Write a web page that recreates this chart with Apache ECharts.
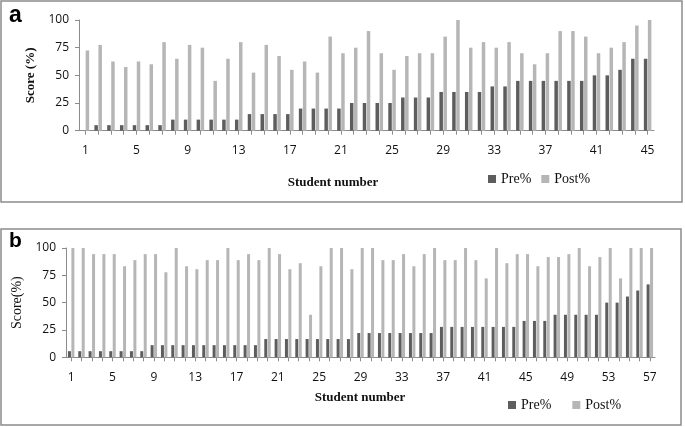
<!DOCTYPE html>
<html>
<head>
<meta charset="utf-8">
<script src="https://cdn.jsdelivr.net/npm/echarts@6/dist/echarts.min.js"></script>
<style>html,body{margin:0;padding:0;background:#fff;}#c{width:685px;height:427px;}</style>
</head>
<body>
<div id="c"></div>
<script>
// Panel a data
const categoriesA = Array.from({length: 45}, (_, i) => String(i + 1));
const preA = [0,5,5,5,5,5,5,10,10,10,10,10,10,15,15,15,15,20,20,20,20,25,25,25,25,30,30,30,35,35,35,35,40,40,45,45,45,45,45,45,50,50,55,65,65];
const postA = [72.5,77.5,62.5,57.5,62.5,60,80,65,77.5,75,45,65,80,
  52.5,77.5,67.5,55,62.5,52.5,85,70,75,90,70,55,67.5,70,70,85,100,75,
  80,75,80,70,60,70,90,90,85,70,75,80,95,100];
// Panel b data
const categoriesB = Array.from({length: 57}, (_, i) => String(i + 1));
const preB = [5.6,5.6,5.6,5.6,5.6,5.6,5.6,5.6,
  11.1,11.1,11.1,11.1,11.1,11.1,11.1,11.1,11.1,11.1,11.1,
  16.7,16.7,16.7,16.7,16.7,16.7,16.7,16.7,16.7,
  22.2,22.2,22.2,22.2,22.2,22.2,22.2,22.2,
  27.8,27.8,27.8,27.8,27.8,27.8,27.8,27.8,
  33.3,33.3,33.3,38.9,38.9,38.9,38.9,38.9,50,50,55.6,61.1,66.7];
const postB = [100,100,94.4,94.4,94.4,83.3,88.9,94.4,94.4,77.8,100,83.3,80.6,88.9,88.9,100,88.9,
  94.4,88.9,100,94.4,80.6,86.1,38.9,83.3,100,100,80.6,100,100,88.9,88.9,94.4,83.3,94.4,100,88.9,88.9,100,
  88.9,72.2,100,86.1,94.4,94.4,83.3,91.7,91.7,94.4,100,83.3,91.7,100,72.2,100,100,100];
const yTicks = [0, 25, 50, 75, 100];
const seriesNames = ['Pre%', 'Post%'];

const PRE = '#5d5d5d', POST = '#b6b6b6', AX = '#8c8c8c';
const tickFont = {fontFamily: 'Open Sans', fontSize: 12, color: '#111'};
const serif = 'Liberation Serif';

function xAxis(gi, cats) {
  return {
    type: 'category', gridIndex: gi, data: cats, boundaryGap: true,
    axisLine: {show: true, lineStyle: {color: AX, width: 1}},
    axisTick: {show: true, interval: 0, alignWithLabel: true, length: 4, lineStyle: {color: AX}},
    axisLabel: Object.assign({interval: 3, margin: 14}, tickFont),
    splitLine: {show: false}
  };
}
function yAxis(gi, name, bold, size, gap) {
  return {
    type: 'value', gridIndex: gi, min: yTicks[0], max: yTicks[yTicks.length - 1], interval: 25,
    name: name, nameLocation: 'middle', nameGap: gap, nameRotate: 90,
    nameTextStyle: {fontFamily: serif, fontWeight: bold ? 'bold' : 'normal', fontSize: size, color: '#111'},
    axisLine: {show: true, lineStyle: {color: AX, width: 1}},
    axisTick: {show: true, length: 4, lineStyle: {color: AX}},
    axisLabel: Object.assign({margin: 10}, tickFont),
    splitLine: {show: false}
  };
}

const chart = echarts.init(document.getElementById('c'), null, {renderer: 'canvas'});
chart.setOption({
  animation: false,
  backgroundColor: '#fff',
  grid: [
    {left: 79, top: 20, width: 575, height: 110.7},
    {left: 66, top: 248, width: 589, height: 109.3}
  ],
  xAxis: [xAxis(0, categoriesA), xAxis(1, categoriesB)],
  yAxis: [yAxis(0, 'Score (%)', true, 13, 39), yAxis(1, 'Score(%)', false, 14, 37)],
  legend: [
    {data: seriesNames, left: 483, top: 167, itemWidth: 8, itemHeight: 8, itemGap: 10, icon: 'rect',
     textStyle: {fontFamily: serif, fontSize: 14, color: '#111'}},
    {data: seriesNames, left: 503, top: 393, itemWidth: 8, itemHeight: 8, itemGap: 21, icon: 'rect',
     textStyle: {fontFamily: serif, fontSize: 14, color: '#111'}}
  ],
  series: [
    {name: seriesNames[0], type: 'bar', xAxisIndex: 0, yAxisIndex: 0, data: preA, barWidth: 3.5, barGap: '15%', itemStyle: {color: PRE}},
    {name: seriesNames[1], type: 'bar', xAxisIndex: 0, yAxisIndex: 0, data: postA, barWidth: 3.5, barGap: '15%', itemStyle: {color: POST}},
    {name: seriesNames[0], type: 'bar', xAxisIndex: 1, yAxisIndex: 1, data: preB, barWidth: 3, barGap: '15%', itemStyle: {color: PRE}},
    {name: seriesNames[1], type: 'bar', xAxisIndex: 1, yAxisIndex: 1, data: postB, barWidth: 3, barGap: '15%', itemStyle: {color: POST}}
  ],
  graphic: [
    {type: 'rect', shape: {x: 1, y: 1, width: 681, height: 201}, style: {fill: 'none', stroke: AX, lineWidth: 1.5}, silent: true},
    {type: 'rect', shape: {x: 1, y: 229, width: 680, height: 196}, style: {fill: 'none', stroke: AX, lineWidth: 1.5}, silent: true},
    {type: 'text', left: 9, top: 4, style: {text: 'a', font: 'bold 23px "Liberation Sans"', fill: '#000'}},
    {type: 'text', left: 9, top: 231, style: {text: 'b', font: 'bold 21px "Liberation Sans"', fill: '#000'}},
    {type: 'text', x: 333, y: 183, style: {text: 'Student number', font: 'bold 13px "Liberation Serif"', fill: '#111', align: 'center', verticalAlign: 'middle'}},
    {type: 'text', x: 360, y: 398, style: {text: 'Student number', font: 'bold 13px "Liberation Serif"', fill: '#111', align: 'center', verticalAlign: 'middle'}}
  ]
});
</script>
</body>
</html>
